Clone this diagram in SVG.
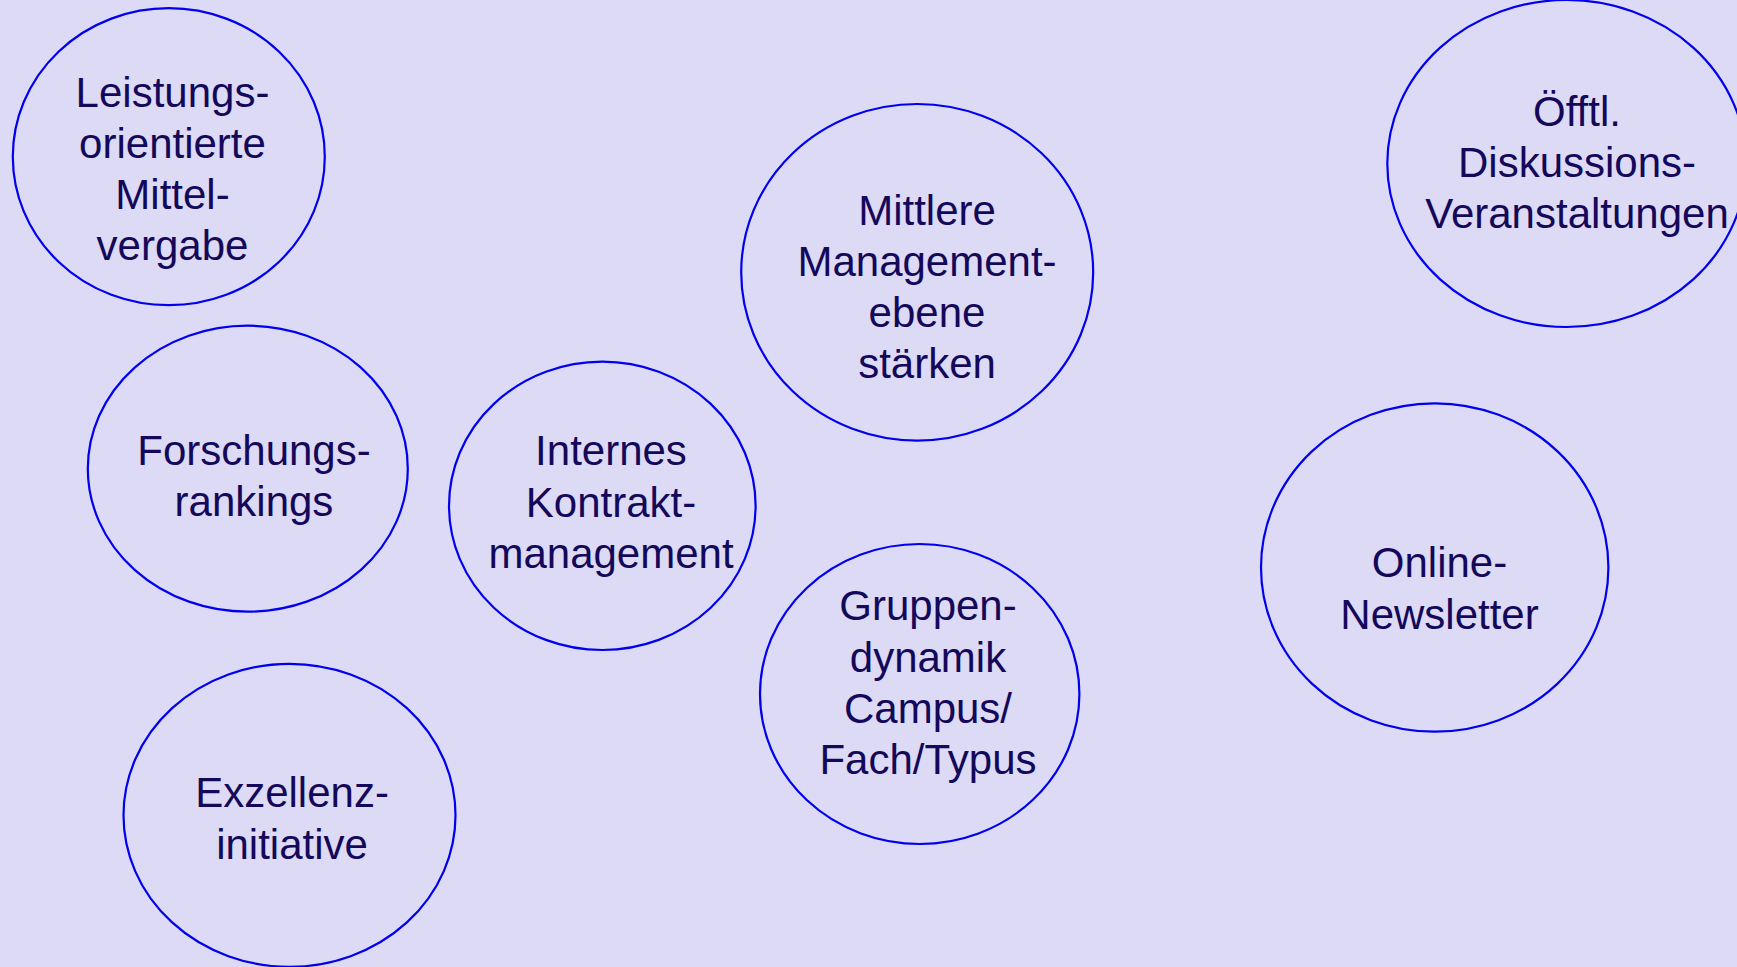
<svg xmlns="http://www.w3.org/2000/svg" width="1737" height="967" viewBox="0 0 1737 967">
<style>
.n ellipse{fill:none;stroke:#0000EE;stroke-width:2.2}
.n text{font-family:"Liberation Sans",Arial,sans-serif;font-size:42px;fill:#14085A;text-anchor:middle}
</style>
<rect width="1737" height="967" fill="#DCDAF5"/>
<g id="connectors"/>
<g id="n1" class="n"><ellipse cx="168.8" cy="156.7" rx="156" ry="148.5"/>
<text x="172.5" y="106.5">Leistungs-</text><text x="172.5" y="157.5">orientierte</text><text x="172.5" y="208.5">Mittel-</text><text x="172.5" y="259.5">vergabe</text></g>
<g id="n2" class="n"><ellipse cx="247.8" cy="468.7" rx="160" ry="143"/>
<text x="254" y="465">Forschungs-</text><text x="254" y="515.5">rankings</text></g>
<g id="n3" class="n"><ellipse cx="289.5" cy="815.3" rx="166" ry="151.5"/>
<text x="292" y="807">Exzellenz-</text><text x="292" y="858.5">initiative</text></g>
<g id="n4" class="n"><ellipse cx="602.3" cy="505.8" rx="153.3" ry="144.2"/>
<text x="611" y="465">Internes</text><text x="611" y="516.5">Kontrakt-</text><text x="611" y="568">management</text></g>
<g id="n5" class="n"><ellipse cx="917.2" cy="272.3" rx="176" ry="168.3"/>
<text x="927" y="224.5">Mittlere</text><text x="927" y="275.5">Management-</text><text x="927" y="326.5">ebene</text><text x="927" y="377.5">stärken</text></g>
<g id="n6" class="n"><ellipse cx="919.7" cy="694" rx="159.7" ry="150"/>
<text x="928" y="620">Gruppen-</text><text x="928" y="671.5">dynamik</text><text x="928" y="722.5">Campus/</text><text x="928" y="773.5">Fach/Typus</text></g>
<g id="n7" class="n"><ellipse cx="1566.7" cy="163.5" rx="179.4" ry="163.5"/>
<text x="1577" y="126">Öfftl.</text><text x="1577" y="177">Diskussions-</text><text x="1577" y="228">Veranstaltungen</text></g>
<g id="n8" class="n"><ellipse cx="1434.7" cy="567.5" rx="173.7" ry="164.2"/>
<text x="1439.5" y="577">Online-</text><text x="1439.5" y="628.5">Newsletter</text></g>
</svg>
